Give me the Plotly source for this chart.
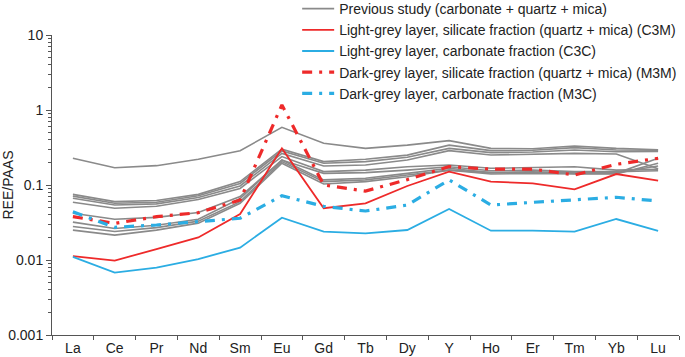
import plotly.graph_objects as go

elements = ["La", "Ce", "Pr", "Nd", "Sm", "Eu", "Gd", "Tb", "Dy", "Y", "Ho", "Er", "Tm", "Yb", "Lu"]

prev_1 = [0.227, 0.170, 0.181, 0.220, 0.287, 0.587, 0.360, 0.308, 0.340, 0.390, 0.308, 0.305, 0.331, 0.308, 0.295]
prev_2 = [0.075, 0.060, 0.062, 0.075, 0.111, 0.300, 0.205, 0.220, 0.250, 0.340, 0.287, 0.290, 0.315, 0.293, 0.290]
prev_3 = [0.071, 0.057, 0.059, 0.072, 0.105, 0.284, 0.195, 0.205, 0.234, 0.308, 0.270, 0.275, 0.293, 0.278, 0.280]
prev_4 = [0.0665, 0.054, 0.056, 0.068, 0.097, 0.264, 0.179, 0.185, 0.215, 0.287, 0.251, 0.255, 0.264, 0.259, 0.165]
prev_5 = [0.059, 0.049, 0.052, 0.064, 0.090, 0.239, 0.151, 0.158, 0.175, 0.185, 0.167, 0.170, 0.175, 0.158, 0.162]
prev_6 = [0.042, 0.035, 0.037, 0.043, 0.070, 0.215, 0.143, 0.146, 0.158, 0.175, 0.155, 0.158, 0.151, 0.151, 0.155]
prev_7 = [0.032, 0.0263, 0.029, 0.035, 0.066, 0.215, 0.117, 0.123, 0.143, 0.167, 0.146, 0.150, 0.143, 0.143, 0.227]
prev_8 = [0.028, 0.024, 0.027, 0.033, 0.060, 0.205, 0.111, 0.117, 0.136, 0.158, 0.146, 0.148, 0.145, 0.146, 0.179]
prev_9 = [0.025, 0.0215, 0.025, 0.031, 0.057, 0.195, 0.103, 0.111, 0.129, 0.158, 0.140, 0.143, 0.140, 0.140, 0.195]
previous = [prev_1, prev_2, prev_3, prev_4, prev_5, prev_6, prev_7, prev_8, prev_9]

c3m = [0.0113, 0.0098, 0.014, 0.020, 0.041, 0.308, 0.049, 0.057, 0.097, 0.151, 0.111, 0.105, 0.0875, 0.140, 0.114]
c3c = [0.0110, 0.0068, 0.0079, 0.0103, 0.0146, 0.0367, 0.0239, 0.0227, 0.0251, 0.0479, 0.0246, 0.0246, 0.0239, 0.0352, 0.0244]
m3m = [0.0378, 0.0308, 0.0378, 0.0428, 0.063, 1.17, 0.100, 0.083, 0.118, 0.176, 0.163, 0.163, 0.136, 0.189, 0.227]
m3c = [0.044, 0.0273, 0.0293, 0.0325, 0.036, 0.072, 0.052, 0.045, 0.054, 0.117, 0.054, 0.0587, 0.063, 0.0686, 0.0612]

names = [
    "Previous study (carbonate + quartz + mica)",
    "Light-grey layer, silicate fraction (quartz + mica) (C3M)",
    "Light-grey layer, carbonate fraction (C3C)",
    "Dark-grey layer, silicate fraction (quartz + mica) (M3M)",
    "Dark-grey layer, carbonate fraction (M3C)",
]

GREY = "#8a8a8a"
RED = "#ee2a2a"
BLUE = "#2bade3"
DASHDOT = "10px,7px,3px,7px"

fig = go.Figure()
for i, s in enumerate(previous):
    fig.add_trace(go.Scatter(x=elements, y=s, mode="lines", name=names[0],
                             legendgroup="prev", showlegend=(i == 0),
                             line=dict(color=GREY, width=1.6)))

fig.add_trace(go.Scatter(x=elements, y=c3m, mode="lines", name=names[1],
                         line=dict(color=RED, width=1.8)))
fig.add_trace(go.Scatter(x=elements, y=c3c, mode="lines", name=names[2],
                         line=dict(color=BLUE, width=1.8)))
fig.add_trace(go.Scatter(x=elements, y=m3m, mode="lines", name=names[3],
                         line=dict(color=RED, width=3.2, dash=DASHDOT)))
fig.add_trace(go.Scatter(x=elements, y=m3c, mode="lines", name=names[4],
                         line=dict(color=BLUE, width=3.2, dash=DASHDOT)))

fig.update_layout(
    width=685, height=357,
    margin=dict(l=52, r=6, t=35, b=22, autoexpand=False),
    paper_bgcolor="white", plot_bgcolor="white",
    font=dict(family="Liberation Sans, Arial, sans-serif", size=14, color="#222"),
    legend=dict(x=0.391, y=1.14, xref="paper", yref="paper",
                xanchor="left", yanchor="top",
                bgcolor="rgba(0,0,0,0)", font=dict(size=14), tracegroupgap=0,
                itemwidth=32),
    showlegend=True,
)
fig.update_xaxes(
    type="category", range=[-0.5, 14.5], tickson="boundaries",
    ticks="outside", ticklen=4, tickcolor="#555", showline=True,
    linecolor="#555", linewidth=1, showgrid=False, zeroline=False,
    tickfont=dict(size=14),
)
fig.update_yaxes(
    type="log", range=[-3, 1],
    tickvals=[0.001, 0.01, 0.1, 1, 10], ticktext=["0.001", "0.01", "0.1", "1", "10"],
    ticks="outside", ticklen=5, tickcolor="#555", showline=True,
    linecolor="#555", linewidth=1, showgrid=False, zeroline=False,
    minor=dict(ticks="outside", ticklen=3, tickcolor="#555", dtick="D1", showgrid=False),
    title=dict(text="REE/PAAS", font=dict(size=14), standoff=2),
    tickfont=dict(size=14),
)

fig.write_html("out.html", config={"displayModeBar": False},
               post_script="document.body.style.margin='0';document.body.style.padding='0';")
